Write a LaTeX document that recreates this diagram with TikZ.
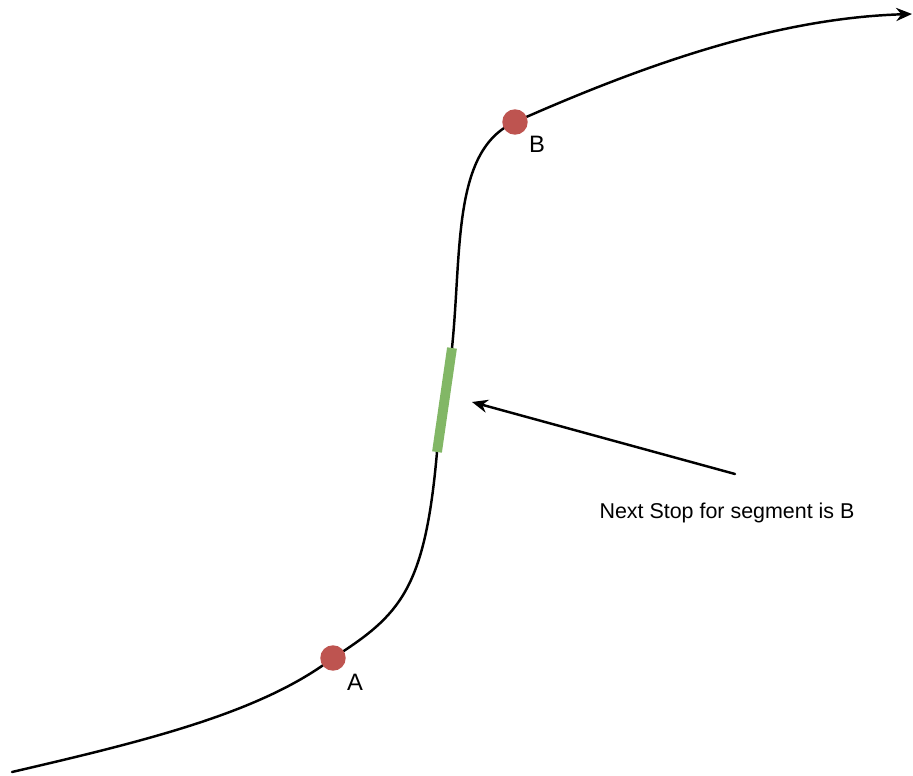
\documentclass[tikz,border=0pt]{standalone}
\usepackage{fontspec}
\setmainfont{Liberation Sans}
\usetikzlibrary{arrows.meta}
\definecolor{stopred}{RGB}{190,84,80}
\definecolor{seggreen}{RGB}{130,183,102}
\begin{document}
\begin{tikzpicture}[x=0.02cm,y=-0.02cm,>={Stealth[length=9pt,width=7.5pt]}, line join=round, line cap=round]
			\useasboundingbox (0,0) rectangle (913,776);
			\tikzset{stop/.style={circle,fill=stopred,inner sep=0pt,minimum size=14.5pt},
				lbl/.style={font=\fontsize{13.5}{16}\selectfont},
				route/.style={line width=1.4pt}}
			\coordinate (start) at (12,772);
			\coordinate (A) at (333,658);
			\coordinate (gbot) at (437,452);
			\coordinate (gtop) at (452,348);
			\coordinate (B) at (515,122);
			\coordinate (end) at (912,14);
			\draw[route,->] (start) .. controls (150,740) and (262,712) .. (A)
				.. controls (400,615) and (425,590) .. (gbot) -- (gtop)
				.. controls (462,250) and (452,150) .. (B)
				.. controls (650,62) and (780,18) .. (end);
			\draw[seggreen,line width=5.6pt,line cap=butt] (gbot)--(gtop);
			\node[stop] (stopA) at (A) {};
			\node[stop] (stopB) at (B) {};
			\node[lbl] (labA) at (355,682) {A};
			\node[lbl] (labB) at (537,144) {B};
			\node[font=\fontsize{12.2}{15}\selectfont] (note) at (727,513) {Next Stop for segment is B};
			\coordinate (tail) at (735,474);
			\coordinate (target) at (472,402);
			\draw[route,->] (tail)--(target);
	\end{tikzpicture}
\end{document}
